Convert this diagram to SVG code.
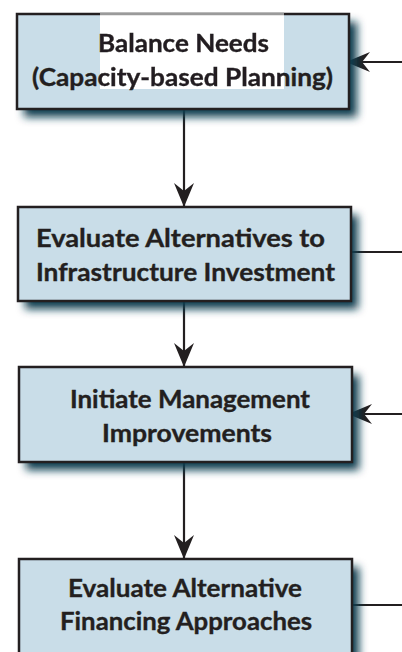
<svg xmlns="http://www.w3.org/2000/svg" width="402" height="652" viewBox="0 0 402 652">
  <style>
    .box { fill: #c9dde8; stroke: #231f20; stroke-width: 2.5; }
    .shadow { fill: #0f3d4f; filter: url(#soft); }
    .label { font-family: Lato, "Open Sans", "Liberation Sans", sans-serif; font-weight: 700; font-size: 24px; fill: #231f20; stroke: #231f20; stroke-width: 0.35; }
    .wire { stroke: #231f20; stroke-width: 2.2; fill: none; }
  </style>
  <defs>
    <filter id="soft" x="-20%" y="-30%" width="140%" height="160%">
      <feGaussianBlur stdDeviation="4"/>
    </filter>
    <filter id="smudge">
      <feGaussianBlur stdDeviation="0.7"/>
    </filter>
    <clipPath id="patchClip">
      <rect x="100" y="13" width="184" height="76"/>
    </clipPath>
    <marker id="head" viewBox="-25 -11 27 22" refX="0" refY="0" markerWidth="27" markerHeight="22" markerUnits="userSpaceOnUse" orient="auto">
      <path d="M0,0 L-24,-10 L-16,0 L-24,10 Z" fill="#231f20"/>
    </marker>
  </defs>

  <rect width="402" height="652" fill="#ffffff"/>

  <!-- connectors -->
  <g id="connectors">
    <line class="wire" x1="184" y1="110" x2="184" y2="207" marker-end="url(#head)"/>
    <line class="wire" x1="184" y1="302" x2="184" y2="367" marker-end="url(#head)"/>
    <line class="wire" x1="184" y1="463" x2="184" y2="559" marker-end="url(#head)"/>
    <line class="wire" x1="402" y1="62" x2="346" y2="62" marker-end="url(#head)"/>
    <line class="wire" x1="351" y1="252" x2="402" y2="252"/>
    <line class="wire" x1="402" y1="414" x2="348" y2="414" marker-end="url(#head)"/>
    <line class="wire" x1="352" y1="605" x2="402" y2="605"/>
  </g>

  <!-- step 1 -->
  <g id="balance-needs">
    <rect class="shadow" x="24" y="22" width="333" height="95"/>
    <rect class="box" x="17" y="14" width="332" height="95"/>
    <text class="label" x="98" y="52" textLength="171" lengthAdjust="spacingAndGlyphs">Balance Needs</text>
    <text class="label" x="32" y="86" textLength="301" lengthAdjust="spacingAndGlyphs">(Capacity-based Planning)</text>
    <rect x="100" y="13" width="184" height="76" fill="#ffffff"/>
    <line x1="100" y1="14" x2="284" y2="14" stroke="#9a9a9a" stroke-width="2.5"/>
    <g clip-path="url(#patchClip)">
      <g filter="url(#smudge)">
        <text class="label" x="98" y="52" textLength="171" lengthAdjust="spacingAndGlyphs">Balance Needs</text>
        <text class="label" x="32" y="86" textLength="301" lengthAdjust="spacingAndGlyphs">(Capacity-based Planning)</text>
      </g>
    </g>
  </g>

  <!-- step 2 -->
  <g id="evaluate-alternatives">
    <rect class="shadow" x="25" y="215" width="333" height="94"/>
    <rect class="box" x="18" y="207" width="333" height="94"/>
    <text class="label" x="36" y="247" textLength="289" lengthAdjust="spacingAndGlyphs">Evaluate Alternatives to</text>
    <text class="label" x="36" y="281" textLength="299" lengthAdjust="spacingAndGlyphs">Infrastructure Investment</text>
  </g>

  <!-- step 3 -->
  <g id="management-improvements">
    <rect class="shadow" x="26" y="375" width="333" height="95"/>
    <rect class="box" x="19" y="367" width="333" height="95"/>
    <text class="label" x="70" y="408" textLength="240" lengthAdjust="spacingAndGlyphs">Initiate Management</text>
    <text class="label" x="102" y="442" textLength="170" lengthAdjust="spacingAndGlyphs">Improvements</text>
  </g>

  <!-- step 4 -->
  <g id="financing-approaches">
    <rect class="shadow" x="26" y="567" width="333" height="95"/>
    <rect class="box" x="19" y="559" width="333" height="95"/>
    <text class="label" x="68" y="597" textLength="234" lengthAdjust="spacingAndGlyphs">Evaluate Alternative</text>
    <text class="label" x="60" y="630" textLength="252" lengthAdjust="spacingAndGlyphs">Financing Approaches</text>
  </g>
</svg>
